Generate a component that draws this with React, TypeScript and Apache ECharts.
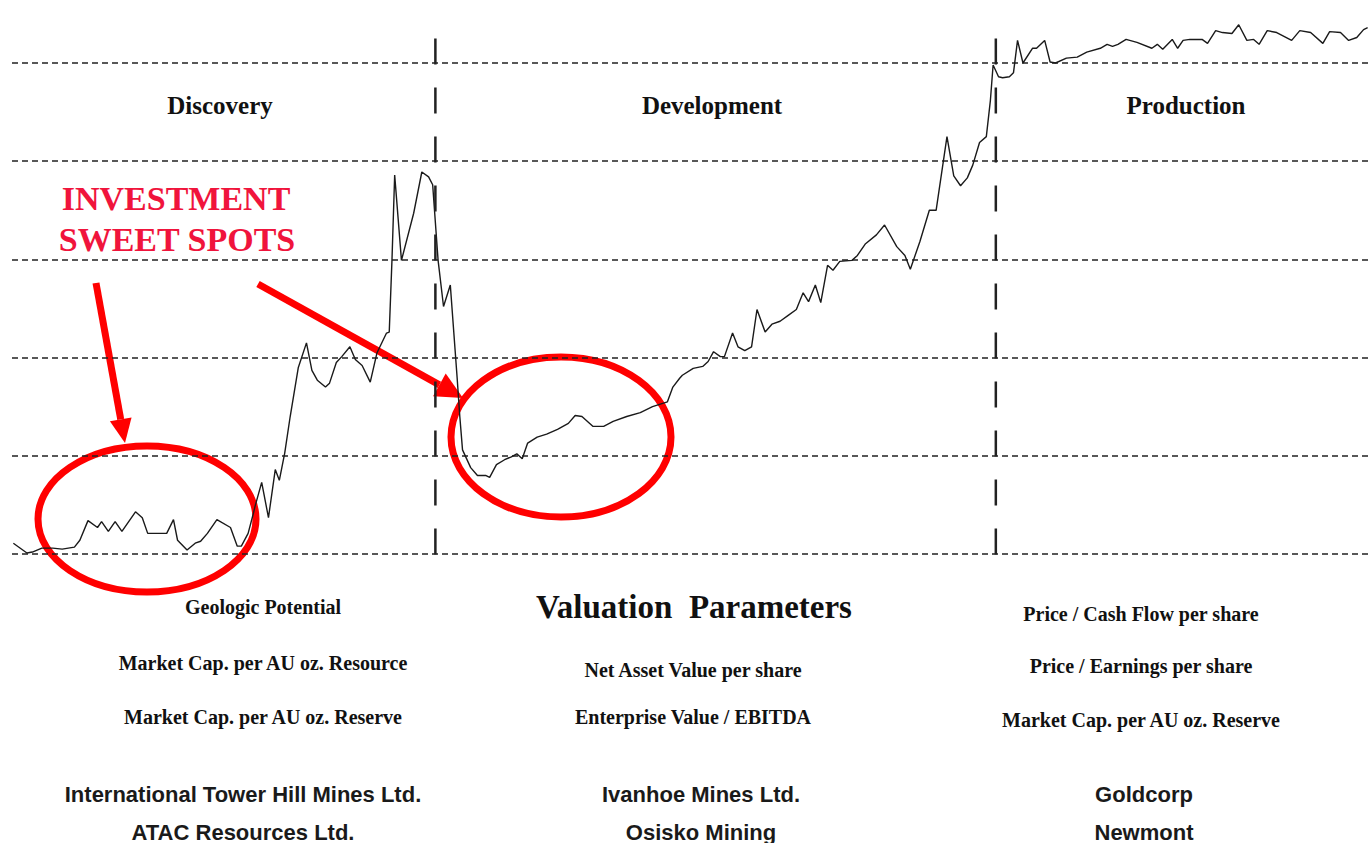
import React, { useEffect, useRef } from "react";
import * as echarts from "echarts";

// Timeline position (percent of the life cycle) and share price level (gridline units)
const timeline = [
  0.1, 1.1, 1.5, 2.2, 3.0, 3.7, 4.6, 5.0, 5.6, 6.3, 6.6, 7.1, 7.6, 8.1, 9.1, 9.6, 10.0, 11.4, 11.9, 12.2,
  12.9, 13.5, 13.9, 14.4, 15.1, 16.1, 16.6, 16.9, 17.4, 17.8, 17.9, 18.4, 18.9, 19.4, 19.7, 20.1, 20.5, 21.1,
  21.7, 22.1, 22.5, 23.1, 23.4, 23.9, 24.3, 24.9, 25.3, 25.8, 26.4, 26.9, 27.6, 27.8, 28.0, 28.2, 28.7, 29.6,
  30.2, 30.7, 31.0, 31.4, 31.8, 32.3, 32.8, 33.0, 33.2, 33.8, 34.3, 34.9, 35.2, 35.7, 36.3, 36.8, 37.2, 37.6,
  38.0, 38.7, 39.4, 40.2, 41.0, 41.5, 42.0, 42.8, 43.6, 44.3, 45.3, 46.3, 47.2, 48.3, 48.7, 49.2, 49.4, 50.2,
  50.9, 51.3, 51.7, 52.2, 52.5, 53.1, 53.5, 54.0, 54.5, 54.9, 55.5, 56.0, 56.6, 57.2, 57.8, 58.3, 58.7, 59.2,
  59.6, 60.1, 60.5, 61.0, 61.9, 62.3, 62.9, 63.7, 64.3, 65.2, 65.8, 66.2, 66.9, 67.6, 68.1, 68.9, 69.4, 69.9,
  70.4, 70.8, 71.3, 71.8, 72.1, 72.3, 72.7, 73.0, 73.5, 73.8, 74.1, 74.5, 75.2, 75.5, 76.1, 76.5, 76.9, 77.7,
  78.5, 79.2, 80.2, 80.7, 81.1, 81.5, 82.1, 82.9, 84.0, 84.4, 84.8, 85.5, 85.9, 86.3, 86.8, 87.7, 88.1, 88.7,
  89.2, 89.9, 90.4, 91.0, 91.5, 91.9, 92.5, 93.2, 94.3, 94.9, 95.7, 96.6, 97.1, 97.9, 98.5, 99.1, 99.6, 99.9,
];
const price = [
  0.11, 0.01, 0.02, 0.06, 0.06, 0.05, 0.07, 0.14, 0.34, 0.27, 0.33, 0.23, 0.33, 0.23, 0.43, 0.37, 0.21, 0.21, 0.35, 0.14,
  0.04, 0.11, 0.13, 0.21, 0.35, 0.27, 0.08, 0.08, 0.21, 0.42, 0.48, 0.73, 0.37, 0.86, 0.75, 1.03, 1.40, 1.90,
  2.15, 1.87, 1.77, 1.70, 1.74, 1.95, 2.01, 2.11, 1.98, 1.92, 1.75, 2.05, 2.25, 2.26, 2.99, 3.86, 2.99, 3.47,
  3.89, 3.84, 3.76, 2.99, 2.52, 2.74, 1.80, 1.40, 1.06, 0.88, 0.80, 0.80, 0.78, 0.91, 0.96, 0.99, 1.02, 0.97,
  1.13, 1.19, 1.22, 1.27, 1.33, 1.41, 1.40, 1.30, 1.30, 1.35, 1.40, 1.44, 1.50, 1.55, 1.70, 1.79, 1.82, 1.89,
  1.91, 1.96, 2.06, 2.01, 2.01, 2.25, 2.11, 2.07, 2.11, 2.49, 2.26, 2.34, 2.37, 2.43, 2.49, 2.66, 2.57, 2.74,
  2.56, 2.94, 2.89, 2.98, 2.99, 3.04, 3.16, 3.25, 3.35, 3.13, 3.04, 2.90, 3.18, 3.50, 3.50, 4.25, 3.85, 3.75,
  3.83, 3.96, 4.19, 4.25, 4.62, 4.98, 4.86, 4.85, 4.86, 4.90, 5.23, 5.00, 5.15, 5.15, 5.23, 5.01, 5.00, 5.05,
  5.06, 5.11, 5.15, 5.19, 5.17, 5.19, 5.24, 5.21, 5.15, 5.19, 5.14, 5.24, 5.15, 5.23, 5.24, 5.24, 5.20, 5.33,
  5.31, 5.30, 5.39, 5.23, 5.24, 5.19, 5.33, 5.31, 5.23, 5.33, 5.31, 5.20, 5.32, 5.31, 5.23, 5.26, 5.34, 5.36,
];

const phaseBoundaries = [31.2, 72.5];
const boundaryTop = 5.25;
const boundaryBottom = -0.18;
const yTicks = [0, 1, 2, 3, 4, 5];

const phaseNames = ["Discovery", "Development", "Production"];
const calloutLines = ["INVESTMENT", "SWEET SPOTS"];
const valuationTitle = "Valuation  Parameters";
const discoveryParams = ["Geologic Potential", "Market Cap. per AU oz. Resource", "Market Cap. per AU oz. Reserve"];
const developmentParams = ["Net Asset Value per share", "Enterprise Value / EBITDA"];
const productionParams = ["Price / Cash Flow per share", "Price / Earnings per share", "Market Cap. per AU oz. Reserve"];
const discoveryCompanies = ["International Tower Hill Mines Ltd.", "ATAC Resources Ltd."];
const developmentCompanies = ["Ivanhoe Mines Ltd.", "Osisko Mining"];
const productionCompanies = ["Goldcorp", "Newmont"];

const SERIF = '"Liberation Serif", "Times New Roman", serif';
const SANS = '"Liberation Sans", Arial, sans-serif';
const RED = "#ff0000";
const PINK_RED = "#f0143c";

function txt(text: string, x: number, y: number, font: string, fill = "#111") {
  return {
    type: "text",
    x,
    y,
    silent: true,
    style: { text, font, fill, textAlign: "center", textVerticalAlign: "middle" },
  };
}

function arrow(x1: number, y1: number, x2: number, y2: number, headLen: number, halfW: number, width: number) {
  const dx = x2 - x1;
  const dy = y2 - y1;
  const len = Math.sqrt(dx * dx + dy * dy);
  const ux = dx / len;
  const uy = dy / len;
  const bx = x2 - ux * headLen;
  const by = y2 - uy * headLen;
  const px = -uy;
  const py = ux;
  return [
    { type: "line", silent: true, shape: { x1, y1, x2: bx, y2: by }, style: { stroke: RED, lineWidth: width } },
    {
      type: "polygon",
      silent: true,
      shape: { points: [[x2, y2], [bx + px * halfW, by + py * halfW], [bx - px * halfW, by - py * halfW]] },
      style: { fill: RED },
    },
  ];
}

export default function App() {
  const ref = useRef<HTMLDivElement>(null);

  useEffect(() => {
    if (!ref.current) return;
    const chart = echarts.init(ref.current, undefined, { renderer: "svg" });

    const mainData = timeline.map((x, i) => [x, price[i]]);
    const boundarySeries = phaseBoundaries.map((b) => ({
      type: "line",
      data: [[b, boundaryTop], [b, boundaryBottom]],
      symbol: "none",
      clip: false,
      silent: true,
      lineStyle: { color: "#222", width: 2.5, type: [26, 23] },
    }));

    const graphics: any[] = [];
    const phaseX = [220, 712, 1186];
    phaseNames.forEach((n, i) => graphics.push(txt(n, phaseX[i], 105, `bold 25px ${SERIF}`)));
    graphics.push(txt(calloutLines[0], 176, 198, `bold 34px ${SERIF}`, PINK_RED));
    graphics.push(txt(calloutLines[1], 177, 239, `bold 34px ${SERIF}`, PINK_RED));
    graphics.push(txt(valuationTitle, 694, 607, `bold 33px ${SERIF}`));

    const dY = [607, 663, 717];
    discoveryParams.forEach((t, i) => graphics.push(txt(t, 263, dY[i], `bold 20px ${SERIF}`)));
    const devY = [670, 717];
    developmentParams.forEach((t, i) => graphics.push(txt(t, 693, devY[i], `bold 20px ${SERIF}`)));
    const pY = [614, 666, 720];
    productionParams.forEach((t, i) => graphics.push(txt(t, 1141, pY[i], `bold 20px ${SERIF}`)));

    const cY = [794, 832];
    discoveryCompanies.forEach((t, i) => graphics.push(txt(t, 243, cY[i], `bold 22px ${SANS}`, "#1a1a1a")));
    developmentCompanies.forEach((t, i) => graphics.push(txt(t, 701, cY[i], `bold 22px ${SANS}`, "#1a1a1a")));
    productionCompanies.forEach((t, i) => graphics.push(txt(t, 1144, cY[i], `bold 22px ${SANS}`, "#1a1a1a")));

    graphics.push({
      type: "ellipse",
      silent: true,
      shape: { cx: 147, cy: 519, rx: 109, ry: 73 },
      style: { fill: "none", stroke: RED, lineWidth: 7 },
    });
    graphics.push({
      type: "ellipse",
      silent: true,
      shape: { cx: 561, cy: 437, rx: 110, ry: 80 },
      style: { fill: "none", stroke: RED, lineWidth: 7 },
    });
    graphics.push(...arrow(96, 283, 125, 443, 24, 11, 7));
    graphics.push(...arrow(258, 284, 463, 398, 27, 13, 7));

    chart.setOption({
      animation: false,
      backgroundColor: "#ffffff",
      grid: { left: 12, right: 0, top: 63, bottom: 289, containLabel: false },
      xAxis: {
        type: "value",
        min: 0,
        max: 100,
        axisLine: { show: false },
        axisTick: { show: false },
        axisLabel: { show: false },
        splitLine: { show: false },
      },
      yAxis: {
        type: "value",
        min: yTicks[0],
        max: yTicks[yTicks.length - 1],
        interval: 1,
        axisLine: { show: false },
        axisTick: { show: false },
        axisLabel: { show: false },
        splitLine: { show: true, lineStyle: { color: "#222", width: 1.6, type: [6, 4] } },
      },
      series: [
        {
          type: "line",
          data: mainData,
          symbol: "none",
          clip: false,
          silent: true,
          lineStyle: { color: "#1a1a1a", width: 1.4 },
          z: 3,
        },
        ...boundarySeries,
      ],
      graphic: graphics,
    });

    return () => chart.dispose();
  }, []);

  return (
    <div
      ref={ref}
      style={{ position: "fixed", left: 0, top: 0, width: 1369, height: 843, background: "#fff" }}
    />
  );
}
